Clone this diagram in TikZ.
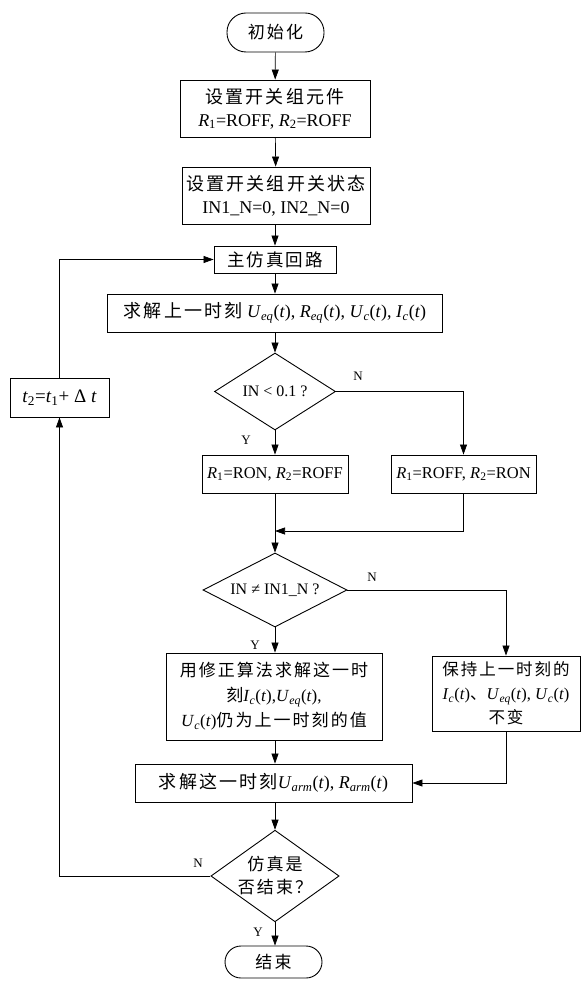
\documentclass[tikz,border=0pt]{standalone}
\usepackage{fontspec}
\setmainfont{Liberation Serif}
\newfontfamily\cjk[LetterSpace=12]{Noto Sans CJK SC}
\usetikzlibrary{shapes.geometric,arrows.meta}
\newcommand\zh[1]{{\cjk #1}}
\newcommand\vi[1]{\textit{#1}}
\newcommand\sbi[1]{\textsubscript{\textit{#1}}}
\newcommand\fsz[2]{\fontsize{#1}{#2}\selectfont}
\begin{document}
\begin{tikzpicture}[x=1pt,y=-1pt,
  box/.style={draw,line width=0.9pt,inner sep=0pt,align=center},
  term/.style={box,rounded corners=#1},
  dia/.style={draw,line width=0.9pt,diamond,inner sep=0pt,align=center},
  arr/.style={line width=0.7pt,-{Triangle[length=10pt,width=7pt]}},
  lab/.style={font=\fsz{13}{15},inner sep=0pt}]
\useasboundingbox (0,0) rectangle (581,981);
\fill[white] (0,0) rectangle (581,981);

\node[term=19pt,minimum width=97pt,minimum height=39pt,font=\fsz{17}{20}] (init) at (275.5,32.5) {\zh{初始化}};
\node[box,minimum width=190pt,minimum height=57pt,font=\fsz{18}{23}] (b1) at (275,108.5)
  {\zh{设置开关组元件}\\ \vi{R}\textsubscript{1}=ROFF, \vi{R}\textsubscript{2}=ROFF};
\node[box,minimum width=188pt,minimum height=57pt,font=\fsz{18}{23}] (b2) at (276,195.5)
  {\zh{设置开关组开关状态}\\IN1\_N=0, IN2\_N=0};
\node[box,minimum width=122pt,minimum height=27pt,font=\fsz{17.5}{20}] (loop) at (275,259.5) {\zh{主仿真回路}};
\node[box,minimum width=335pt,minimum height=38pt,font=\fsz{18}{21}] (solve) at (275,313)
  {\zh{求解上一时刻} \vi{U}\sbi{eq}(\vi{t}), \vi{R}\sbi{eq}(\vi{t}), \vi{U}\sbi{c}(\vi{t}), \vi{I}\sbi{c}(\vi{t})};
\node[dia,aspect=1.6,minimum width=121pt,minimum height=77pt,font=\fsz{16}{18}] (d1) at (275,391.5) {IN {\textless} 0.1 ?};
\node[box,minimum width=146pt,minimum height=38pt,font=\fsz{16.5}{19}] (ron) at (275,474)
  {\vi{R}\textsubscript{1}=RON, \vi{R}\textsubscript{2}=ROFF};
\node[box,minimum width=145pt,minimum height=38pt,font=\fsz{16.5}{19}] (roff) at (463.5,474)
  {\vi{R}\textsubscript{1}=ROFF, \vi{R}\textsubscript{2}=RON};
\coordinate (mrg) at (275,531);
\node[dia,aspect=2,minimum width=144pt,minimum height=74pt,font=\fsz{16}{18}] (d2) at (275,590) {IN ≠ IN1\_N ?};
\node[box,minimum width=216pt,minimum height=87pt,font=\fsz{17}{25}] (fix) at (274,696.5)
  {\zh{用修正算法求解这一时}\\\zh{刻}\vi{I}\sbi{c}(\vi{t}),\vi{U}\sbi{eq}(\vi{t}),\\\vi{U}\sbi{c}(\vi{t})\zh{仍为上一时刻的值}};
\node[box,minimum width=148pt,minimum height=75pt,font=\fsz{16.5}{24}] (keep) at (506,693.5)
  {\zh{保持上一时刻的}\\\vi{I}\sbi{c}(\vi{t})\zh{、}\vi{U}\sbi{eq}(\vi{t}), \vi{U}\sbi{c}(\vi{t})\\\zh{不变}};
\node[box,minimum width=277pt,minimum height=38pt,font=\fsz{18}{21}] (arm) at (273.5,783)
  {\zh{求解这一时刻}\vi{U}\sbi{arm}(\vi{t}), \vi{R}\sbi{arm}(\vi{t})};
\node[dia,aspect=1.4,minimum width=122pt,minimum height=86pt,font=\fsz{17}{23}] (d3) at (275,876) {\zh{仿真是}\\\zh{否结束？}};
\node[term=16pt,minimum width=97pt,minimum height=32pt,font=\fsz{17}{20}] (endn) at (273.5,962) {\zh{结束}};
\node[box,minimum width=99pt,minimum height=39pt,font=\fsz{19}{22}] (t2) at (59.5,397.5)
  {\vi{t}\textsubscript{2}=\vi{t}\textsubscript{1}+ Δ \vi{t}};

\node[lab] (ln1) at (358,376) {N};
\node[lab] (ly1) at (246,440) {Y};
\node[lab] (ln2) at (372,577) {N};
\node[lab] (ly2) at (255,645) {Y};
\node[lab] (ln3) at (198,863) {N};
\node[lab] (ly3) at (258,932) {Y};

\draw[arr] (init) -- (b1);
\draw[arr] (b1) -- (b2);
\draw[arr] (b2.south -| loop) -- (loop);
\draw[arr] (loop) -- (solve);
\draw[arr] (solve) -- (d1);
\draw[arr] (d1) -- (ron);
\draw[arr] (d1.east) -| (roff.north);
\draw[arr] (roff.south) |- (mrg);
\draw[arr] (ron) -- (d2);
\draw[arr] (d2) -- (fix.north -| d2);
\draw[arr] (d2.east) -| (keep.north);
\draw[arr] (fix.south -| d2) -- (arm.north -| d2);
\draw[arr] (keep.south) |- (arm.east);
\draw[arr] (arm.south -| d3) -- (d3);
\draw[arr] (d3) -- (endn.north -| d3);
\draw[arr] (d3.west) -| (t2.south);
\draw[arr] (t2.north) |- (loop.west);
\end{tikzpicture}
\end{document}
